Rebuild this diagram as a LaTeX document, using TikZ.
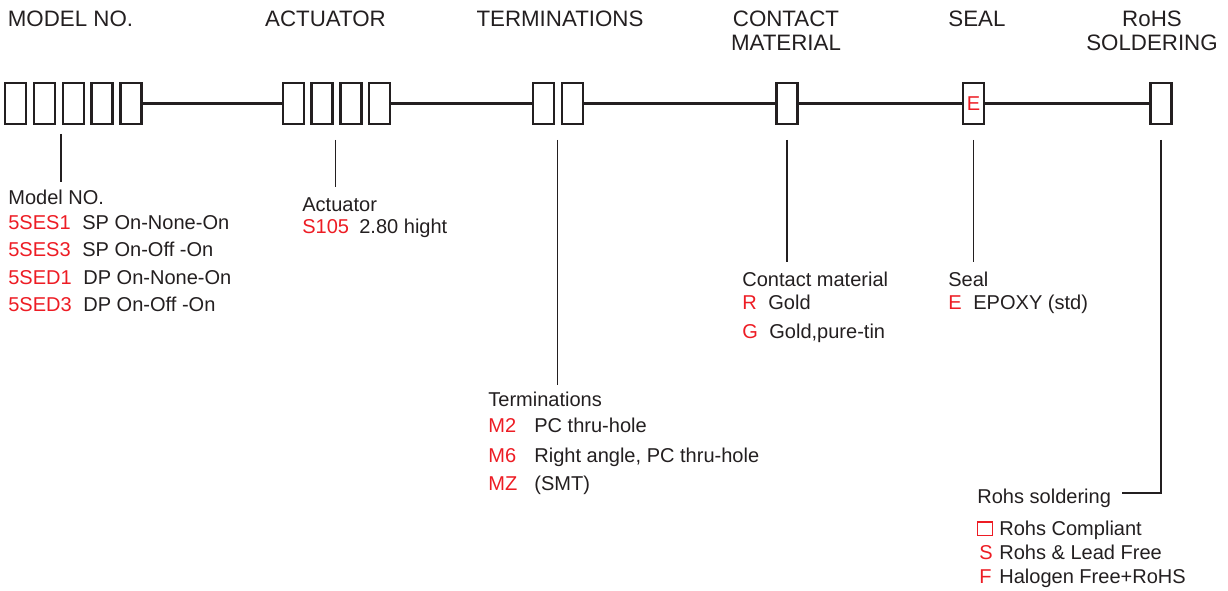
\documentclass[tikz,border=0pt]{standalone}
\usepackage{fontspec}
\setmainfont{Liberation Sans}
\usetikzlibrary{positioning}
\definecolor{codered}{RGB}{237,28,36}
\definecolor{ink}{RGB}{35,31,32}
\newcommand{\partcode}[2]{\makebox[#1][l]{\textcolor{codered}{#2}}}
\newcommand{\rohsbox}{{\setlength{\fboxsep}{0pt}\setlength{\fboxrule}{0.6pt}\fcolorbox{codered}{white}{\makebox[0.27cm]{\rule{0pt}{0.25cm}}}}}
\tikzset{
  digit/.style={draw=ink, line width=1.4pt, minimum width=0.42cm, minimum height=0.82cm, inner sep=0pt},
  wire/.style={draw=ink, line width=1.4pt},
  stem/.style={draw=ink, line width=0.8pt},
  header/.style={font=\fontsize{12.7}{13.6}\selectfont, text=ink, align=center, anchor=north, inner sep=0pt},
  item/.style={font=\fontsize{11.4}{13.7}\selectfont, text=ink, anchor=base west, inner sep=0pt},
}
\begin{document}
\begin{tikzpicture}[x=0.02cm, y=-0.02cm]
    \useasboundingbox (0,0) rectangle (1228,591);
    % headers
    \node[header] (h-model) at (70.5,11) {MODEL NO.};
    \node[header] (h-act) at (325.5,11) {ACTUATOR};
    \node[header] (h-term) at (560,11) {TERMINATIONS};
    \node[header] (h-cont) at (786,11) {CONTACT\\MATERIAL};
    \node[header] (h-seal) at (977,11) {SEAL};
    \node[header] (h-rohs) at (1152,11) {RoHS\\SOLDERING};
    % code boxes
    \foreach \i/\x in {1/15.75,2/44.55,3/73.35,4/102.15,5/130.95} {\node[digit] (m\i) at (\x,103.5) {};}
    \foreach \i/\x in {1/293.5,2/322.2,3/350.9,4/379.6} {\node[digit] (a\i) at (\x,103.5) {};}
    \node[digit] (t1) at (543.5,103.5) {};
    \node[digit] (t2) at (572.5,103.5) {};
    \node[digit] (c1) at (787,103.5) {};
    \node[digit, text=codered, font=\fontsize{11.4}{13.7}\selectfont] (s1) at (973.5,103.5) {E};
    \node[digit] (r1) at (1161,103.5) {};
    \draw[wire] (m5) -- (a1);
    \draw[wire] (a4) -- (t1);
    \draw[wire] (t2) -- (c1);
    \draw[wire] (c1) -- (s1);
    \draw[wire] (s1) -- (r1);
    % stems
    \coordinate (m-top) at (61,134); \coordinate (m-bot) at (61,182);
    \coordinate (a-top) at (335.5,140); \coordinate (a-bot) at (335.5,187);
    \coordinate (t-top) at (557.5,140); \coordinate (t-bot) at (557.5,385);
    \coordinate (c-top) at (787,140); \coordinate (c-bot) at (787,262);
    \coordinate (s-top) at (973.5,140); \coordinate (s-bot) at (973.5,262);
    \coordinate (r-top) at (1161,140); \coordinate (r-bot) at (1161,493);
    \foreach \p in {m,a,t,c,s} {\draw[stem] (\p-top) -- (\p-bot);}
    % model no.
    \node[item] (m-title) at (8,205) {Model NO.};
    \node[item] (m-opt1) at (8,230) {\partcode{1.48cm}{5SES1}SP On-None-On};
    \node[item] (m-opt2) at (8,257) {\partcode{1.48cm}{5SES3}SP On-Off -On};
    \node[item] (m-opt3) at (8,285) {\partcode{1.5cm}{5SED1}DP On-None-On};
    \node[item] (m-opt4) at (8,312) {\partcode{1.5cm}{5SED3}DP On-Off -On};
    % actuator
    \node[item] (a-title) at (302,212) {Actuator};
    \node[item] (a-opt1) at (302,234) {\partcode{1.14cm}{S105}2.80 hight};
    % terminations
    \node[item] (t-title) at (488,406) {Terminations};
    \node[item] (t-opt1) at (488,433) {\partcode{0.92cm}{M2}PC thru-hole};
    \node[item] (t-opt2) at (488,462) {\partcode{0.92cm}{M6}Right angle, PC thru-hole};
    \node[item] (t-opt3) at (488,490) {\partcode{0.92cm}{MZ}(SMT)};
    % contact material
    \node[item] (c-title) at (742,287) {Contact material};
    \node[item] (c-opt1) at (742,310) {\partcode{0.52cm}{R}Gold};
    \node[item] (c-opt2) at (742,338) {\partcode{0.54cm}{G}Gold,pure-tin};
    % seal
    \node[item] (s-title) at (948,287) {Seal};
    \node[item] (s-opt1) at (948,310) {\partcode{0.5cm}{E}EPOXY (std)};
    % rohs soldering
    \node[item] (r-title) at (977,503) {Rohs soldering};
    \draw[stem] (r-top) -- (r-bot) -- ([xshift=0.22cm]r-title.east |- r-bot);
    \node[item] (r-opt1) at (977,535) {\makebox[0.44cm][l]{\rohsbox}Rohs Compliant};
    \node[item] (r-opt2) at (979,559) {\partcode{0.4cm}{S}Rohs \& Lead Free};
    \node[item] (r-opt3) at (979,583) {\partcode{0.4cm}{F}Halogen Free+RoHS};
\end{tikzpicture}
\end{document}
